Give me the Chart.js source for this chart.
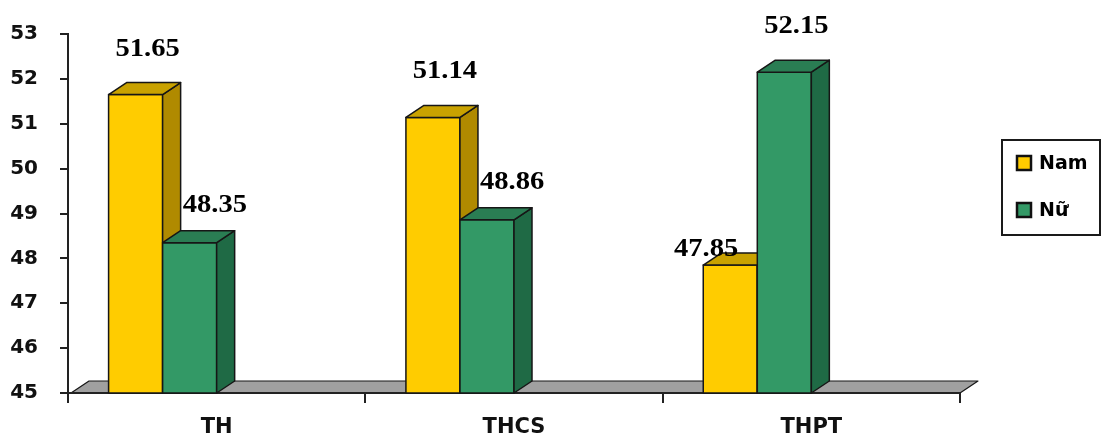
<!DOCTYPE html>
<html><head><meta charset="utf-8">
<script src="https://cdn.jsdelivr.net/npm/chart.js@4/dist/chart.umd.min.js"></script>
<style>html,body{margin:0;padding:0;background:#fff}#wrap{width:1102px;height:441px;position:relative}</style>
</head><body><div id="wrap"><canvas id="c"></canvas></div>
<script>
const categories = ['TH', 'THCS', 'THPT'];
const namValues = [51.65, 51.14, 47.85];
const nuValues = [48.35, 48.86, 52.15];
const seriesNames = ['Nam', 'Nữ'];
const yTicks = [45, 46, 47, 48, 49, 50, 51, 52, 53];

const FRONT = ['#FFCC00', '#339966'];
const SIDE = ['#B08A00', '#1F6A45'];
const TOP = ['#C9A200', '#2A7D53'];
const DX = 18, DY = -12;
const INK = '#161616';

function poly(ctx, pts, fill, lw) {
  ctx.beginPath();
  ctx.moveTo(pts[0][0], pts[0][1]);
  for (let i = 1; i < pts.length; i++) ctx.lineTo(pts[i][0], pts[i][1]);
  ctx.closePath();
  ctx.fillStyle = fill; ctx.fill();
  ctx.lineWidth = lw || 1.5; ctx.strokeStyle = INK; ctx.lineJoin = 'round'; ctx.stroke();
}

const threeD = {
  id: 'threeD',
  beforeDatasetsDraw(chart) {
    const ctx = chart.ctx, a = chart.chartArea;
    ctx.save();
    poly(ctx, [[a.left + 3, a.bottom], [a.left + 3 + DX, a.bottom + DY], [a.right + DX, a.bottom + DY], [a.right, a.bottom]], '#A0A0A0', 1.2);
    ctx.beginPath(); ctx.moveTo(a.left, a.bottom); ctx.lineTo(a.right, a.bottom);
    ctx.lineWidth = 2; ctx.strokeStyle = '#222'; ctx.stroke();
    for (let i = 0; i < categories.length; i++) {
      for (let d = 0; d < 2; d++) {
        const el = chart.getDatasetMeta(d).data[i];
        if (!el) continue;
        const p = el.getProps(['x', 'y', 'base', 'width'], true);
        const l = p.x - p.width / 2, r = p.x + p.width / 2, t = p.y, b = Math.min(p.base, a.bottom);
        poly(ctx, [[l, t], [r, t], [r, b], [l, b]], FRONT[d]);
        poly(ctx, [[r, t], [r + DX, t + DY], [r + DX, b + DY], [r, b]], SIDE[d]);
        poly(ctx, [[l, t], [l + DX, t + DY], [r + DX, t + DY], [r, t]], TOP[d]);
      }
    }
    ctx.restore();
    return false;
  },
  afterDraw(chart) {
    const ctx = chart.ctx, a = chart.chartArea;
    const SX = 1.1;
    ctx.save();
    ctx.font = 'bold 26px "Liberation Serif", "Times New Roman", serif';
    ctx.fillStyle = '#000';
    ctx.textAlign = 'center'; ctx.textBaseline = 'alphabetic';
    const vals = [namValues, nuValues];
    for (let i = 0; i < categories.length; i++) {
      for (let d = 0; d < 2; d++) {
        const el = chart.getDatasetMeta(d).data[i];
        const p = el.getProps(['x', 'y', 'width'], true);
        const txt = vals[d][i].toFixed(2);
        const hw = ctx.measureText(txt).width * SX / 2;
        let cx = p.x + DX / 2 + 3, by = p.y - 39;
        const other = vals[1 - d][i];
        if (d === 1 && other > vals[d][i]) {
          cx = p.x - p.width / 2 + DX + 2 + hw; by = p.y - 31;
        } else if (d === 0 && other > vals[d][i]) {
          cx = p.x + p.width / 2 - 19 - hw; by = p.y - 9;
        }
        ctx.save();
        ctx.translate(cx, by); ctx.scale(SX, 1);
        ctx.fillText(txt, 0, 0);
        ctx.restore();
      }
    }
    // legend
    const bx = a.right + 42, by = 140, bw = 98, bh = 95;
    ctx.lineWidth = 2; ctx.strokeStyle = '#1a1a1a';
    ctx.strokeRect(bx, by, bw, bh);
    ctx.font = 'bold 19px "DejaVu Sans", sans-serif';
    ctx.textAlign = 'left'; ctx.textBaseline = 'middle';
    for (let d = 0; d < 2; d++) {
      const cy = by + 23 + d * 47;
      ctx.fillStyle = FRONT[d];
      ctx.fillRect(bx + 15, cy - 7, 14, 14);
      ctx.lineWidth = 2.5; ctx.strokeStyle = '#111';
      ctx.strokeRect(bx + 15, cy - 7, 14, 14);
      ctx.fillStyle = '#000';
      ctx.fillText(seriesNames[d], bx + 37, cy + 1);
    }
    ctx.restore();
  }
};

new Chart(document.getElementById('c'), {
  type: 'bar',
  data: {
    labels: categories,
    datasets: [
      { label: seriesNames[0], data: namValues, backgroundColor: FRONT[0] },
      { label: seriesNames[1], data: nuValues, backgroundColor: FRONT[1] },
      { label: '', data: [null, null, null] },
      { label: '', data: [null, null, null] }
    ]
  },
  options: {
    responsive: true, maintainAspectRatio: false, animation: false,
    layout: { padding: { top: 33, right: 142, bottom: 0, left: 0 } },
    datasets: { bar: { categoryPercentage: 0.727, barPercentage: 1 } },
    plugins: { legend: { display: false }, tooltip: { enabled: false } },
    scales: {
      x: {
        offset: true,
        ticks: { color: '#111', font: { family: 'DejaVu Sans', weight: 'bold', size: 21 }, padding: 12, maxRotation: 0 },
        grid: { offset: true, drawOnChartArea: false, tickLength: 10, color: '#222', lineWidth: 2 },
        border: { color: '#222', width: 2 },
        afterFit(s) { s.height = 48; }
      },
      y: {
        min: yTicks[0], max: yTicks[yTicks.length - 1],
        afterBuildTicks(s) { s.ticks = yTicks.map(v => ({ value: v })); },
        ticks: { color: '#111', font: { family: 'DejaVu Sans', weight: 'bold', size: 20 }, padding: 22 },
        grid: { drawOnChartArea: false, tickLength: 8, color: '#222', lineWidth: 2 },
        border: { color: '#222', width: 2 },
        afterFit(s) { s.width = 68; }
      }
    }
  },
  plugins: [threeD]
});
</script></body></html>
